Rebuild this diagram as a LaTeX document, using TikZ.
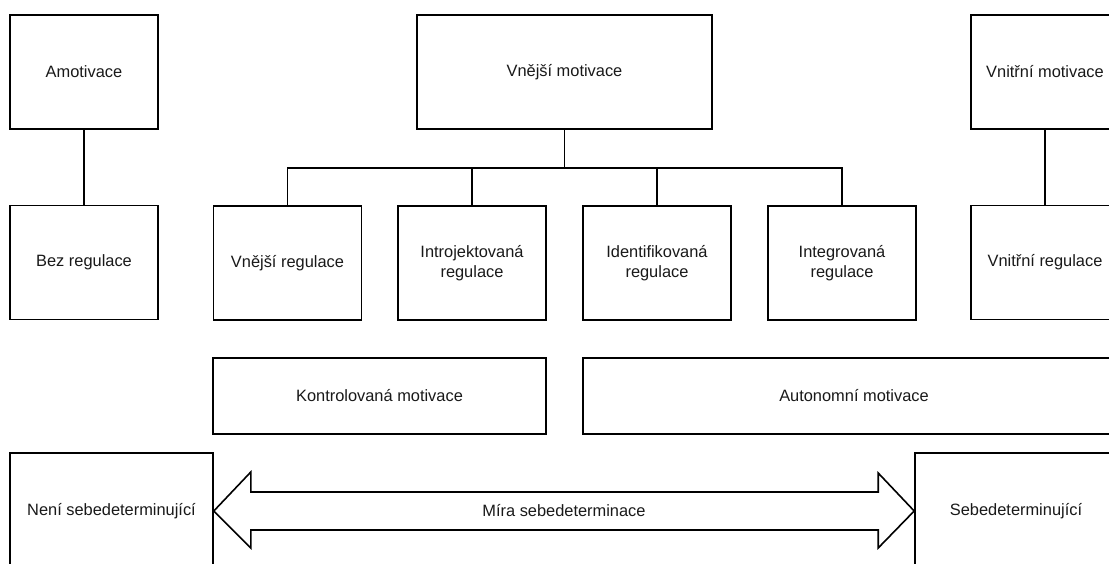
\documentclass[tikz,border=0pt]{standalone}
\usepackage{fontspec}
\setmainfont{Liberation Sans}
\usetikzlibrary{calc}
\tikzset{
  box/.style={draw=black, line width=1.6pt, fill=white, rectangle, inner sep=0pt, align=center,
    font=\fontsize{16.4}{19.5}\selectfont, text=black!90},
  sq/.style={box, minimum width=148pt, minimum height=114pt},
  wire/.style={draw=black, line width=1.6pt},
  lbl/.style={inner sep=0pt, font=\fontsize{16.4}{19.5}\selectfont, text=black!90}
}
\begin{document}
\begin{tikzpicture}[x=1pt,y=-1pt]
\useasboundingbox (0,0) rectangle (1109,563);
\clip (0,0) rectangle (1109,563);
\fill[white] (0,0) rectangle (1109,563);
% top row
\node[sq] (amot) at (84,72) {Amotivace};
\node[sq] (bez) at (84,262.5) {Bez regulace};
\node[box, minimum width=295pt, minimum height=114pt] (vnem) at (564.5,72) {Vnější motivace};
\node[sq] (vnim) at (1045,72) {Vnitřní motivace};
\node[sq] (vnir) at (1045,262.5) {Vnitřní regulace};
% children
\node[sq] (c1) at (287.5,263) {Vnější regulace};
\node[sq] (c2) at (472,263) {Introjektovaná\\regulace};
\node[sq] (c3) at (657,263) {Identifikovaná\\regulace};
\node[sq] (c4) at (842,263) {Integrovaná\\regulace};
% middle row
\node[box, minimum width=333pt, minimum height=76pt] (kont) at (379.5,396) {Kontrolovaná motivace};
\node[box, minimum width=542pt, minimum height=76pt] (auto) at (854,396) {Autonomní motivace};
% bottom row
\node[box, minimum width=203pt, minimum height=116pt] (nse) at (111.5,511) {Není sebedeterminující};
\node[box, minimum width=202pt, minimum height=116pt] (se) at (1016,511) {Sebedeterminující};
% connectors
\draw[wire] (amot.south) -- (bez.north);
\draw[wire] (vnim.south) -- (vnir.north);
\coordinate (bus) at ($(vnem.south)+(0,38)$);
\draw[wire] (vnem.south) -- (bus);
\draw[wire] (c1.north) |- (bus) -| (c4.north);
\draw[wire] (c2.north) -- (c2.north |- bus);
\draw[wire] (c3.north) -- (c3.north |- bus);
% double arrow
\draw[wire, line join=miter, fill=white]
  (nse.east) -- ($(nse.east)+(37,-39)$) -- ($(nse.east)+(37,-19)$)
  -- ($(se.west)+(-36,-19)$) -- ($(se.west)+(-36,-38)$) -- (se.west)
  -- ($(se.west)+(-36,37)$) -- ($(se.west)+(-36,19)$)
  -- ($(nse.east)+(37,19)$) -- ($(nse.east)+(37,37)$) -- cycle;
\node[lbl] (mira) at ($(nse.east)!0.5!(se.west)$) {Míra sebedeterminace};
\end{tikzpicture}
\end{document}
